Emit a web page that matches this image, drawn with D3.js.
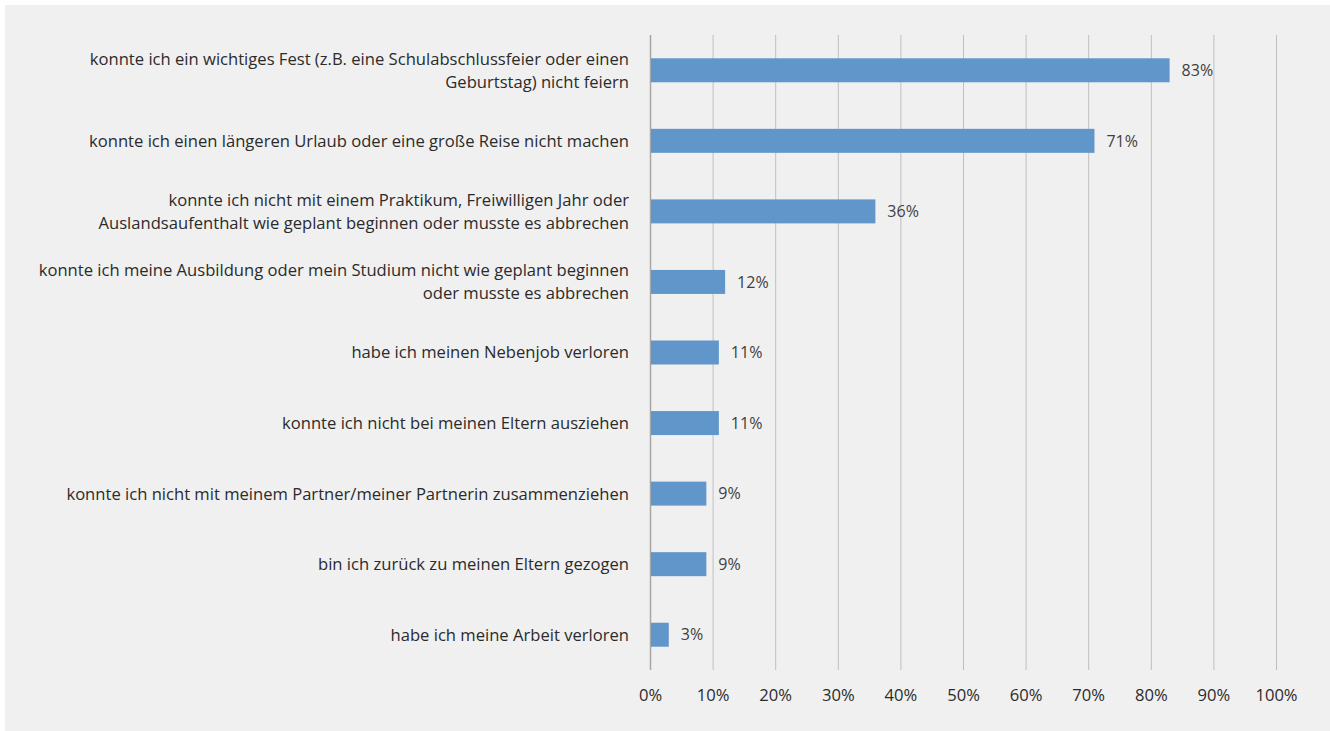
<!DOCTYPE html>
<html><head><meta charset="utf-8">
<script src="https://cdn.jsdelivr.net/npm/d3@7"></script>
<style>
html,body{margin:0;padding:0;background:#fff;}
svg{display:block;}
text{font-family:"Open Sans", sans-serif;}
</style></head>
<body>
<script>
const categories = [
  ["konnte ich ein wichtiges Fest (z.B. eine Schulabschlussfeier oder einen", "Geburtstag) nicht feiern"],
  ["konnte ich einen längeren Urlaub oder eine große Reise nicht machen"],
  ["konnte ich nicht mit einem Praktikum, Freiwilligen Jahr oder", "Auslandsaufenthalt wie geplant beginnen oder musste es abbrechen"],
  ["konnte ich meine Ausbildung oder mein Studium nicht wie geplant beginnen", "oder musste es abbrechen"],
  ["habe ich meinen Nebenjob verloren"],
  ["konnte ich nicht bei meinen Eltern ausziehen"],
  ["konnte ich nicht mit meinem Partner/meiner Partnerin zusammenziehen"],
  ["bin ich zurück zu meinen Eltern gezogen"],
  ["habe ich meine Arbeit verloren"]
];
const values = [83, 71, 36, 12, 11, 11, 9, 9, 3];
const ticks = [0,10,20,30,40,50,60,70,80,90,100];

const W = 1330, H = 731;
const FS = 16.6;
const svg = d3.select("body").append("svg").attr("width", W).attr("height", H);
svg.append("rect").attr("x",5).attr("y",5).attr("width",W-5).attr("height",H-5).attr("fill","#f0f0f0");

const x = d3.scaleLinear().domain([0,100]).range([650,1276]);
const y = d3.scaleBand().domain(d3.range(categories.length)).range([35,670]).paddingInner(0.66).paddingOuter(0.33);

// gridlines
svg.append("g").selectAll("line").data(ticks).join("line")
  .attr("x1", d=>x(d)+0.5).attr("x2", d=>x(d)+0.5)
  .attr("y1", 35).attr("y2", 670)
  .attr("stroke", d=> d===0 ? "#a6a6a6" : "#bfbfbf")
  .attr("stroke-width", d=> d===0 ? 1.5 : 1);

// bars
svg.append("g").selectAll("rect").data(values).join("rect")
  .attr("x", x(0)+1).attr("y", (d,i)=>y(i))
  .attr("width", d=>x(d)-x(0)-1).attr("height", y.bandwidth())
  .attr("fill", "#6096c9");

// value labels
svg.append("g").selectAll("text").data(values).join("text")
  .attr("x", d=>x(d)+12).attr("y", (d,i)=>y(i)+y.bandwidth()/2)
  .attr("dy","0.36em").attr("font-size",FS-0.6).attr("fill","#404040")
  .text(d=>d+"%");

// category labels
const lab = svg.append("g");
categories.forEach((lines,i)=>{
  const cy = y(i)+y.bandwidth()/2;
  const lh = 23;
  const t = lab.append("text").attr("text-anchor","end").attr("font-size",FS).attr("fill","#2b2b2b");
  lines.forEach((l,j)=>{
    t.append("tspan").attr("x",629).attr("y", cy + (j-(lines.length-1)/2)*lh).attr("dy","0.36em").text(l);
  });
});

// axis tick labels
const ax = svg.append("g").attr("transform","translate(0,695)").call(d3.axisBottom(x).tickValues(ticks).tickFormat(d=>d+"%").tickSize(0));
ax.select(".domain").remove();
ax.selectAll("text").attr("font-size",FS).attr("fill","#2b2b2b").attr("font-family","'Open Sans', sans-serif").attr("dy","0.36em").attr("y",0);
</script>
</body></html>
